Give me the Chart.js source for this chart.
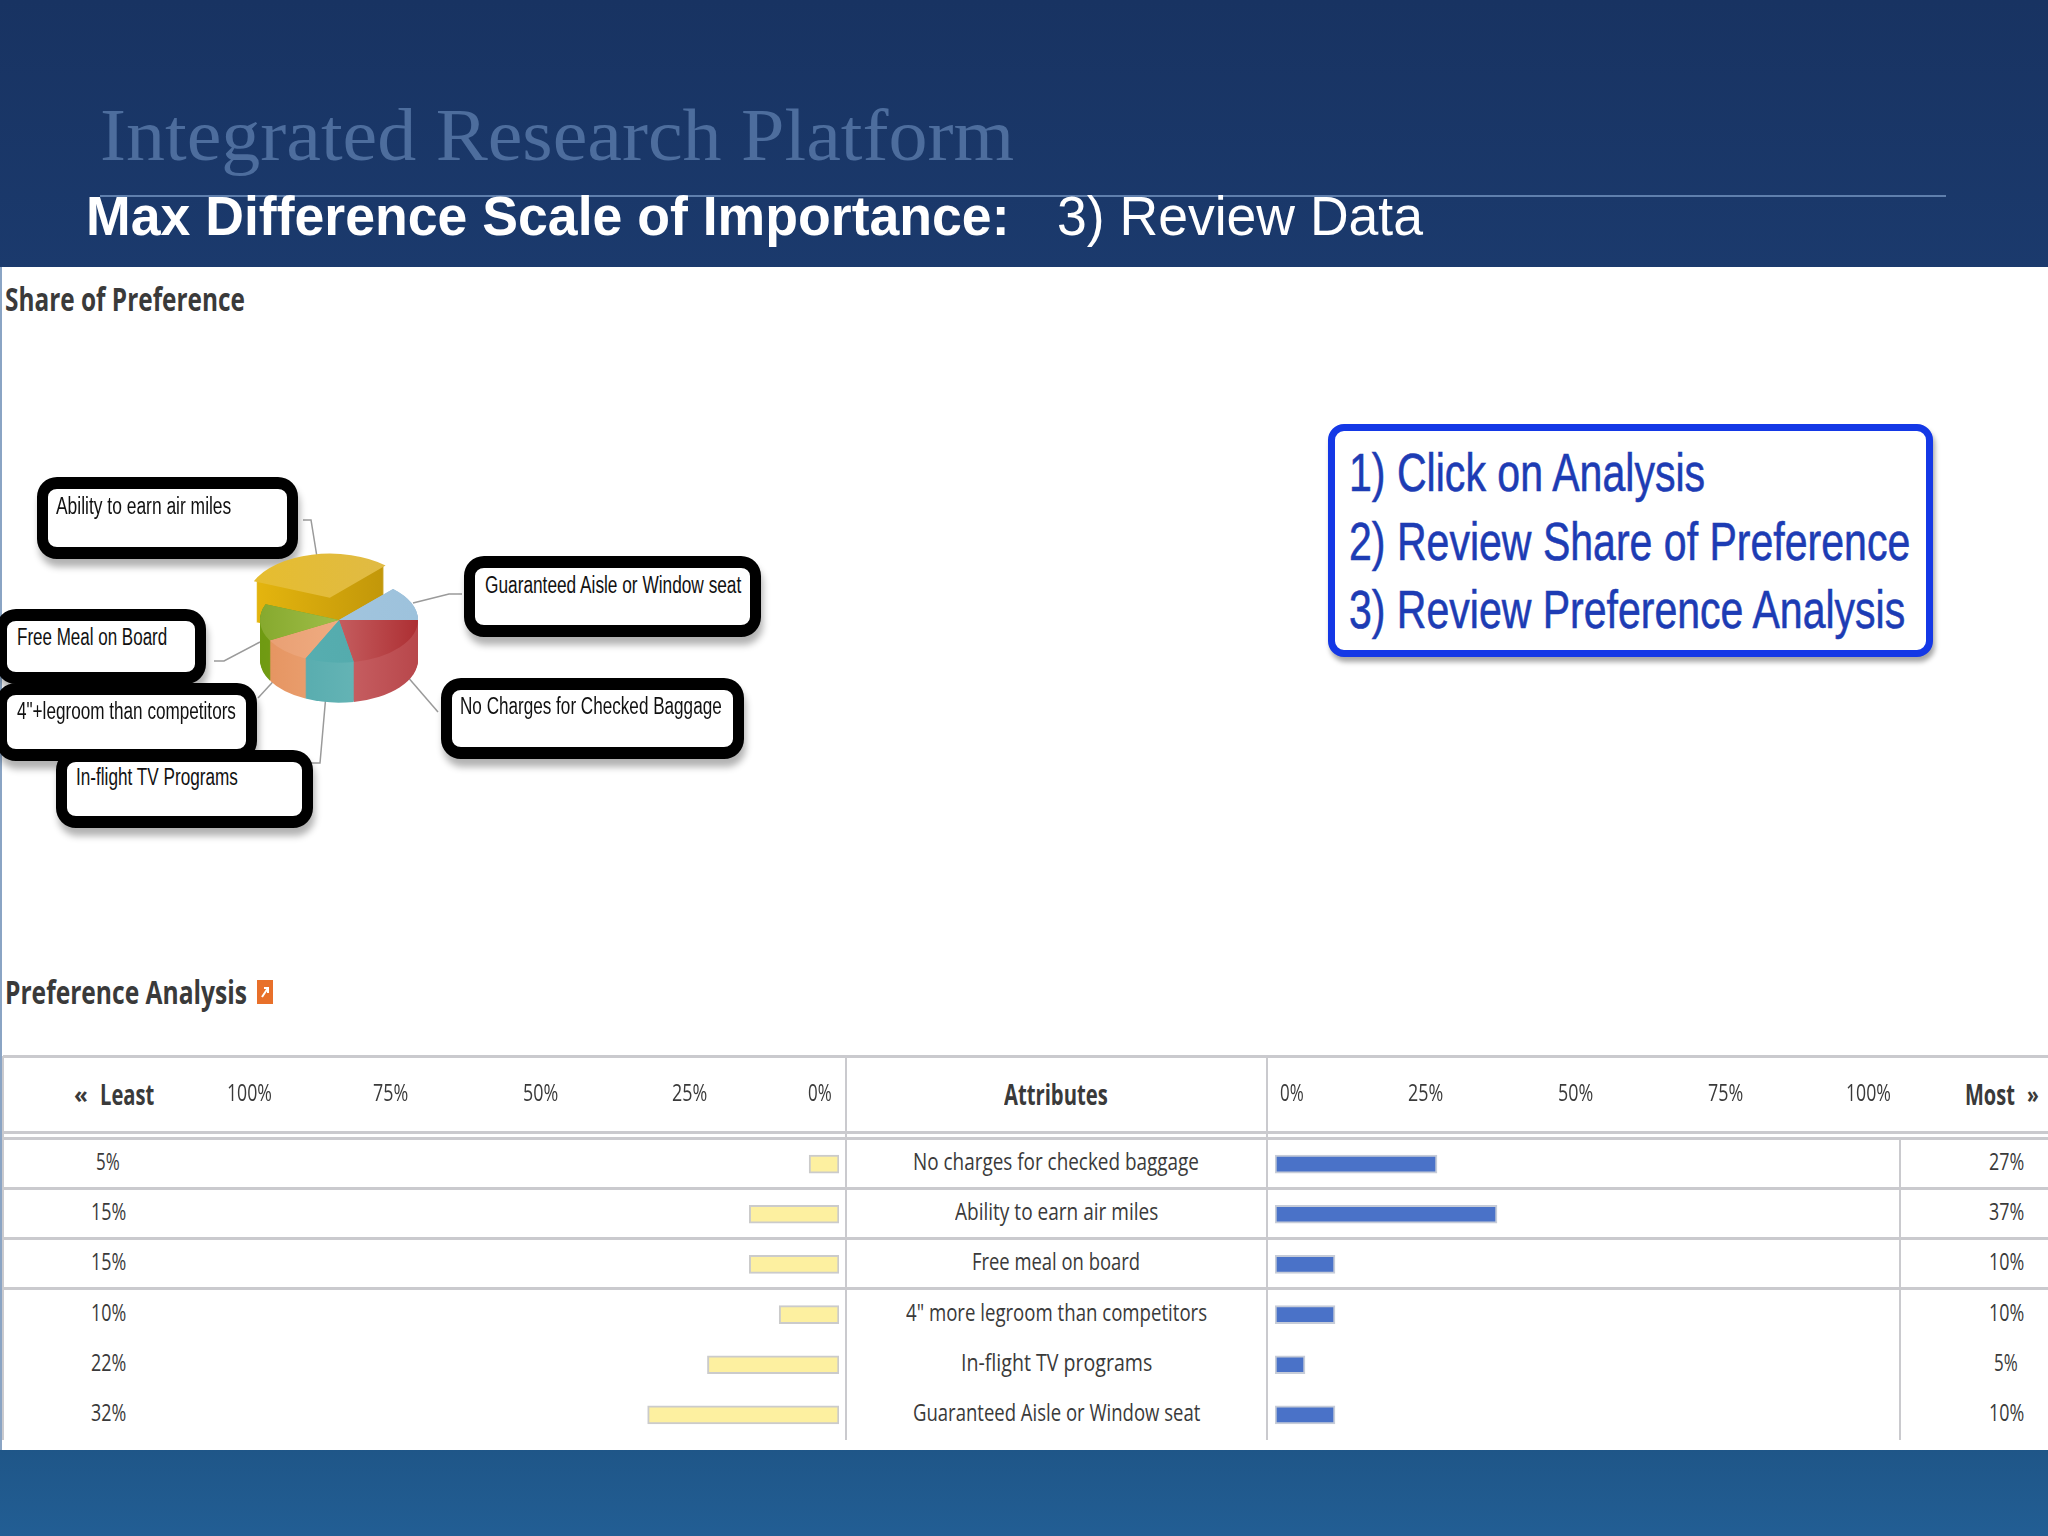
<!DOCTYPE html>
<html>
<head>
<meta charset="utf-8">
<style>
  html, body { margin: 0; padding: 0; }
  body { width: 2048px; height: 1536px; position: relative; overflow: hidden;
         background: linear-gradient(#183362 0, #1b3a6d 270px, #1f5688 1450px, #225e94 1536px); }
  .abs { position: absolute; }
  .txt { position: absolute; white-space: nowrap; transform-origin: left center; line-height: 1; }
  #panel { position: absolute; left: 0; top: 267px; width: 2048px; height: 1183px; background: #fff;
           box-shadow: inset 2px 0 0 #8aa4c4; }
  .rule { position: absolute; background: #cacace; }
  .callout { position: absolute; box-sizing: border-box; background: #fff; border: solid #000;
             border-width: 12px 11px; border-radius: 20px; box-shadow: 2px 8px 7px rgba(0,0,0,.3); }
  #steps { position: absolute; left: 1328px; top: 424px; width: 605px; height: 233px; box-sizing: border-box;
           background: #fff; border: 7px solid #1438e6; border-radius: 16px; box-shadow: 2px 5px 5px rgba(0,0,0,.35); }
  canvas { position: absolute; }
</style>
</head>
<body>
<div id="panel"></div>
<div class="abs" style="left:100px;top:195px;width:1846px;height:2px;background:#5f7fad"></div>
<div id="steps"></div>
<svg id="leaders" class="abs" style="left:0;top:0" width="2048" height="1536"></svg>
<div id="boxes"></div>
<div id="rules"></div>
<canvas id="pieChart" width="240" height="240" style="left:219px;top:500px;width:240px;height:240px"></canvas>
<canvas id="leastChart" width="608" height="384" style="left:236px;top:1056px;width:608px;height:384px"></canvas>
<canvas id="mostChart" width="610" height="384" style="left:1270px;top:1056px;width:610px;height:384px"></canvas>
<div id="labels"></div>

<script src="https://cdn.jsdelivr.net/npm/chart.js@4"></script>
<script>
/* data */
const attributes = ['No charges for checked baggage', 'Ability to earn air miles', 'Free meal on board',
  '4" more legroom than competitors', 'In-flight TV programs', 'Guaranteed Aisle or Window seat'];
const leastValues = [5, 15, 15, 10, 22, 32];
const mostValues = [27, 37, 10, 10, 5, 10];
const tickValues = [0, 25, 50, 75, 100];

const pieLabels = ['No Charges for Checked Baggage', 'In-flight TV Programs', '4"+legroom than competitors',
  'Free Meal on Board', 'Ability to earn air miles', 'Guaranteed Aisle or Window seat'];
const pieValues = [22, 10, 10, 14, 31, 13];
const pieOffsets = [0, 0, 0, 0, 168, 0];
const pieTop = [['#dc8a8a', '#ad2f33'], ['#58b0b2', '#52a8aa'], ['#e89e72', '#f7b98f'],
  ['#86a92e', '#b9d262'], ['#e6bd2e', '#dfba48'], ['#a5c6df', '#9dc2dc']];
const pieSide = [['#d87c7e', '#b8474b'], ['#4fa7aa', '#72bcbc'], ['#e5935f', '#f2b48c'],
  ['#6f9a12', '#8fae2c'], ['#e3b40e', '#b98f08'], ['#9dbdd6', '#9dbdd6']];

const stepLines = ['1) Click on Analysis', '2) Review Share of Preference', '3) Review Preference Analysis'];

/* text placed by left edge, centre line and width */
const labelsDiv = document.getElementById('labels');
function addText(str, x, cy, w, css) {
  let s = document.createElement('span');
  s.className = 'txt';
  s.textContent = str;
  s.style.cssText = css;
  s.style.left = x + 'px';
  labelsDiv.appendChild(s);
  s.style.top = (cy - s.offsetHeight / 2) + 'px';
  s.style.transform = 'scaleX(' + (w / s.offsetWidth) + ')';
}
function addCentered(str, cx, cy, w, css) {
  addText(str, cx - w / 2, cy, w, css);
}

const sans = 'font-family:"Liberation Sans",sans-serif;';
const ui = 'font-family:"Open Sans",sans-serif;color:#3a3a3a;';

addText('Integrated Research Platform', 100, 135, 914, 'font-family:"Liberation Serif",serif;font-size:74px;color:#4d6d9d;');
addText('Max Difference Scale of Importance:', 86, 216, 924, sans + 'font-weight:bold;font-size:55px;color:#fff;');
addText('3) Review Data', 1057, 216, 366, sans + 'font-size:55px;color:#fff;');
addText('Share of Preference', 5, 299, 240, ui + 'font-weight:bold;font-size:32px;');
addText('Preference Analysis', 5, 992, 242, ui + 'font-weight:bold;font-size:32px;');

/* blue steps box */
[[1349, 472, 356], [1349, 541, 561], [1349, 609, 556]].forEach((p, i) => {
  addText(stepLines[i], p[0], p[1], p[2], sans + 'font-size:54px;color:#1d3cb4;-webkit-text-stroke:0.6px #1d3cb4;');
});

/* orange export icon */
let icon = document.createElement('div');
icon.className = 'abs';
icon.style.cssText = 'left:257px;top:980px;width:16px;height:24px;background:#e8702a;box-sizing:border-box';
icon.innerHTML = '<svg width="16" height="24"><path d="M5 17 L11 8 M7 8 H11 V13" fill="none" stroke="#fff" stroke-width="2"/></svg>';
document.body.appendChild(icon);

/* pie callouts, same order as pieLabels */
const boxSpots = [
  { left: 441, top: 678, w: 303, h: 81, tx: 460, ty: 706, tw: 262, lead: '438,712 400,668' },
  { left: 56, top: 750, w: 257, h: 78, tx: 76, ty: 777, tw: 162, lead: '311,763 320,763 327,683' },
  { left: -4, top: 683, w: 261, h: 78, tx: 17, ty: 711, tw: 219, lead: '258,698 281,673' },
  { left: -4, top: 609, w: 210, h: 75, tx: 17, ty: 637, tw: 150, lead: '214,661 224,661 260,642' },
  { left: 37, top: 477, w: 261, h: 82, tx: 56, ty: 506, tw: 175, lead: '303,520 311,520 317,557' },
  { left: 464, top: 556, w: 297, h: 81, tx: 485, ty: 585, tw: 256, lead: '462,594 449,594 413,603' }
];
const boxOrder = [4, 5, 3, 2, 0, 1];
const svgNS = 'http://www.w3.org/2000/svg';
boxOrder.forEach(i => {
  let b = boxSpots[i];
  let d = document.createElement('div');
  d.className = 'callout';
  d.style.cssText = 'left:' + b.left + 'px;top:' + b.top + 'px;width:' + b.w + 'px;height:' + b.h + 'px';
  document.getElementById('boxes').appendChild(d);
  addText(pieLabels[i], b.tx, b.ty, b.tw, sans + 'font-size:23px;color:#111;');
  let line = document.createElementNS(svgNS, 'polyline');
  line.setAttribute('points', b.lead);
  line.setAttribute('fill', 'none');
  line.setAttribute('stroke', '#9a9a9a');
  line.setAttribute('stroke-width', '1.5');
  document.getElementById('leaders').appendChild(line);
});

/* table rules */
function addRule(x, y, w, h) {
  let r = document.createElement('div');
  r.className = 'rule';
  r.style.cssText = 'left:' + x + 'px;top:' + y + 'px;width:' + w + 'px;height:' + h + 'px';
  document.getElementById('rules').appendChild(r);
}
[1055, 1131, 1137, 1187, 1237, 1287].forEach(y => addRule(3, y, 2045, 3));
addRule(2, 1056, 2, 384);
addRule(845, 1056, 2, 384);
addRule(1266, 1056, 2, 384);
addRule(1899, 1138, 2, 302);

/* table text */
const rowCenter = [1161, 1211, 1261, 1312, 1362, 1412];
const headCenter = 1094;
const tickCss = ui + 'font-size:24px;';
addText('«', 74, headCenter, 14, ui + 'font-weight:bold;font-size:24px;');
addText('Least', 100, headCenter, 54, ui + 'font-weight:bold;font-size:28px;');
addCentered('Attributes', 1056, headCenter, 104, ui + 'font-weight:bold;font-size:28px;');
addText('Most', 1965, headCenter, 50, ui + 'font-weight:bold;font-size:28px;');
addText('»', 2027, headCenter, 12, ui + 'font-weight:bold;font-size:24px;');
const attrWidth = [286, 203, 168, 301, 191, 287];
attributes.forEach((a, i) => {
  addCentered(a, 1056, rowCenter[i], attrWidth[i], ui + 'font-size:24px;');
  let lw = leastValues[i] < 10 ? 24 : 35;
  addCentered(leastValues[i] + '%', 108, rowCenter[i], lw, ui + 'font-size:24px;');
  let mw = mostValues[i] < 10 ? 24 : 35;
  addCentered(mostValues[i] + '%', 2006, rowCenter[i], mw, ui + 'font-size:24px;');
});

/* pie with a thick squashed look */
const squash = 0.54;
const thickness = 40;

function sideGradient(ctx, arc, colors) {
  let g = ctx.createLinearGradient(arc.x - arc.outerRadius, 0, arc.x + arc.outerRadius, 0);
  g.addColorStop(0, colors[0]);
  g.addColorStop(1, colors[1]);
  return g;
}

const thickPie = {
  id: 'thickPie',
  beforeDatasetsDraw(chart) {
    const ctx = chart.ctx;
    const arcs = chart.getDatasetMeta(0).data;
    ctx.save();
    ctx.translate(arcs[0].x, arcs[0].y);
    ctx.scale(1, squash);
    ctx.translate(-arcs[0].x, -arcs[0].y);
    // yellow slice first, the others cover its lower wall
    [4, 5, 3, 2, 0, 1].forEach(i => {
      const arc = arcs[i];
      const mid = (arc.startAngle + arc.endAngle) / 2;
      // the library moves a slice by a quarter of its offset
      const off = pieOffsets[i] / 4;
      const cx = arc.x + Math.cos(mid) * off;
      const cy = arc.y + Math.sin(mid) * off;
      ctx.fillStyle = sideGradient(ctx, arc, pieSide[i]);
      for (let d = thickness; d >= 0; d -= 1) {
        ctx.beginPath();
        ctx.moveTo(cx, cy + d / squash);
        ctx.arc(cx, cy + d / squash, arc.outerRadius, arc.startAngle, arc.endAngle);
        ctx.closePath();
        ctx.fill();
      }
    });
  },
  afterDatasetsDraw(chart) {
    chart.ctx.restore();
  }
};

new Chart(document.getElementById('pieChart').getContext('2d'), {
  type: 'pie',
  data: {
    labels: pieLabels,
    datasets: [{
      data: pieValues,
      offset: pieOffsets,
      borderWidth: 0,
      backgroundColor: c => {
        const x = c.chart.width / 2;
        const g = c.chart.ctx.createLinearGradient(x - 79, 0, x + 79, 0);
        g.addColorStop(0, pieTop[c.dataIndex][0]);
        g.addColorStop(1, pieTop[c.dataIndex][1]);
        return g;
      }
    }]
  },
  options: {
    responsive: false,
    animation: false,
    radius: 79,
    rotation: 90,
    plugins: { legend: { display: false }, tooltip: { enabled: false } }
  },
  plugins: [thickPie]
});

/* the two bar charts of the table */
function barChart(id, left, values, fill, edge, reverse, edgeNudge) {
  let chart = new Chart(document.getElementById(id).getContext('2d'), {
    type: 'bar',
    data: {
      labels: attributes,
      datasets: [{
        data: values,
        backgroundColor: fill,
        borderColor: edge,
        borderWidth: 2,
        barThickness: 18,
        borderSkipped: false
      }]
    },
    options: {
      indexAxis: 'y',
      responsive: false,
      animation: false,
      layout: { autoPadding: false, padding: { left: 5, right: 5 } },
      scales: {
        x: {
          position: 'top',
          reverse: reverse,
          min: 0,
          max: 100,
          border: { display: false },
          grid: { display: false, drawTicks: false },
          afterFit: axis => { axis.height = 83; },
          ticks: { display: false }
        },
        y: { display: false }
      },
      plugins: { legend: { display: false }, tooltip: { enabled: false } }
    }
  });
  // header tick labels are squeezed like the rest of the table text,
  // the first and last one sit inside the axis ends
  tickValues.forEach((v, i) => {
    let w = v === 100 ? 45 : (v === 0 ? 24 : 35);
    addCentered(v + '%', left + chart.scales.x.getPixelForValue(v) + edgeNudge[i], headCenter - 2, w, tickCss);
  });
  return chart;
}

barChart('leastChart', 236, leastValues, '#fdf0a0', '#cbcbcb', true, [-19, 0, 0, 0, 8]);
barChart('mostChart', 1270, mostValues, '#4a72c8', '#c6ccd8', false, [17, 0, 0, 0, -7]);
</script>
</body>
</html>
